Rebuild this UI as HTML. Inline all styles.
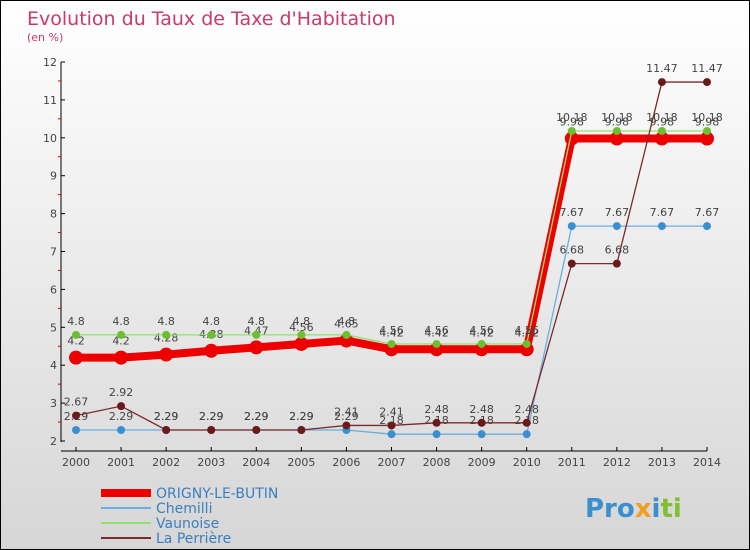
<!DOCTYPE html>
<html><head><meta charset="utf-8"><style>
body{margin:0}
#c{width:748px;height:548px;border:1px solid #000;background:linear-gradient(#fff,#d6d6d6);position:relative;overflow:hidden;font-family:"DejaVu Sans","Liberation Sans",sans-serif}
svg text{font-family:"DejaVu Sans","Liberation Sans",sans-serif}
</style></head><body>
<div id="c">
<svg id="s" width="748" height="548" xmlns="http://www.w3.org/2000/svg">
<text x="26" y="24" font-size="19" fill="#c83a6a">Evolution du Taux de Taxe d'Habitation</text>
<text x="26" y="40" font-size="11" fill="#c83a6a">(en %)</text>
<g id="axes"></g><g id="series"></g>
<g id="legend"></g>
<text x="584" y="516" font-size="26" font-weight="bold"><tspan fill="#3a8fd0">Pro</tspan><tspan fill="#f0a020">x</tspan><tspan fill="#3a8fd0">i</tspan><tspan fill="#80c030">ti</tspan></text>
</svg></div>
<script>
const years=[2000,2001,2002,2003,2004,2005,2006,2007,2008,2009,2010,2011,2012,2013,2014];
const yTicks=[2,3,4,5,6,7,8,9,10,11,12];
const origny=[4.2,4.2,4.28,4.38,4.47,4.56,4.65,4.42,4.42,4.42,4.42,9.98,9.98,9.98,9.98];
const chemille=[2.29,2.29,2.29,2.29,2.29,2.29,2.29,2.18,2.18,2.18,2.18,7.67,7.67,7.67,7.67];
const vaunoise=[4.8,4.8,4.8,4.8,4.8,4.8,4.8,4.56,4.56,4.56,4.56,10.18,10.18,10.18,10.18];
const perriere=[2.67,2.92,2.29,2.29,2.29,2.29,2.41,2.41,2.48,2.48,2.48,6.68,6.68,11.47,11.47];
const names=["ORIGNY-LE-BUTIN","Chemilli","Vaunoise","La Perrière"];
const NS="http://www.w3.org/2000/svg";
const X=i=>75+i*(706-75)/(years.length-1);
const Y=v=>440-(v-2)*(440-61)/10;
function mk(t,a,p){const e=document.createElementNS(NS,t);for(const k in a)e.setAttribute(k,a[k]);p.appendChild(e);return e;}
const ax=document.getElementById('axes');
let l=mk('line',{x1:60,y1:61,x2:60,y2:441,stroke:'#000'},ax);


l=mk('line',{x1:60,y1:450,x2:706,y2:450,stroke:'#000'},ax);


yTicks.forEach((v,i)=>{mk('line',{x1:60,y1:Y(v),x2:64,y2:Y(v),stroke:'#000'},ax);
 if(i<yTicks.length-1)mk('line',{x1:57,y1:Y(v+0.5),x2:60,y2:Y(v+0.5),stroke:'#d00'},ax);
 const t=mk('text',{x:56,y:Y(v)+4,'font-size':11,fill:'#444','text-anchor':'end'},ax);t.textContent=v;
 
 });
years.forEach((y,i)=>{mk('line',{x1:X(i),y1:446,x2:X(i),y2:450,stroke:'#000'},ax);
 const t=mk('text',{x:X(i),y:465,'font-size':11,fill:'#444','text-anchor':'middle'},ax);t.textContent=y;
 
 });
const sg=document.getElementById('series');
function series(d,col,w,r,mcol,nm){
 const p=mk('polyline',{points:d.map((v,i)=>X(i)+','+Y(v)).join(' '),fill:'none',stroke:col,'stroke-width':w},sg);
 
 
 d.forEach((v,i)=>{const c=mk('circle',{cx:X(i),cy:Y(v),r:r,fill:mcol},sg);
  
  
  const t=mk('text',{x:X(i),y:Y(v)-(r+6),'font-size':11,fill:'#444','text-anchor':'middle'},sg);t.textContent=v;
  
  });
}
series(origny,'#e00',8,7,'#e00','origny');
series(chemille,'#6aaee0',1.3,4,'#3a8fd0','chemille');
series(vaunoise,'#90e070',1.3,4,'#6cc030','vaunoise');
series(perriere,'#7a2a2a',1.3,4,'#6a1a1a','perriere');
const lg=document.getElementById('legend');
[['#e00',8],['#6aaee0',2],['#90e070',2],['#7a2a2a',2]].forEach((s,i)=>{
 const y=492+i*15;
 const ln=mk('line',{x1:100,y1:y,x2:150,y2:y,stroke:s[0],'stroke-width':s[1]},lg);
 
 
 const t=mk('text',{x:155,y:y+5,'font-size':14,fill:'#3a7fc0'},lg);t.textContent=names[i];
 
 });
</script>
</body></html>
